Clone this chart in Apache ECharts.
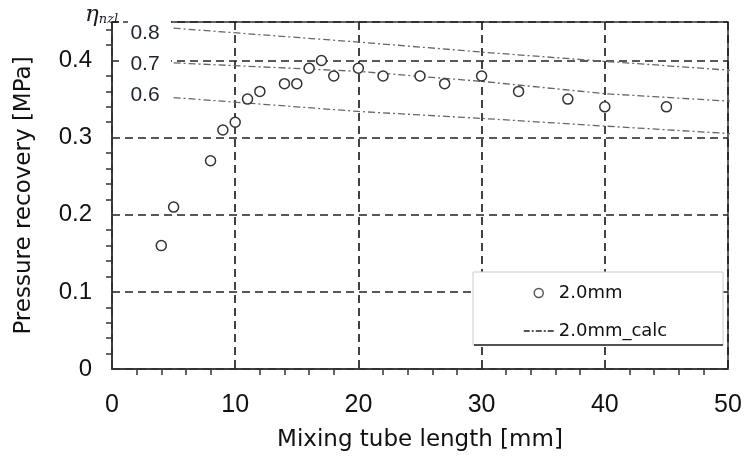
<!DOCTYPE html>
<html>
<head>
<meta charset="utf-8">
<script src="https://cdn.jsdelivr.net/npm/echarts@6/dist/echarts.min.js"></script>
<style>
  html, body { margin: 0; padding: 0; background: #fff; }
  #chart { width: 747px; height: 459px; }
</style>
</head>
<body>
<div id="chart"></div>
<script>
// measured points, 2.0mm nozzle
const tubeLength = [4, 5, 8, 9, 10, 11, 12, 14, 15, 16, 17, 18, 20, 22, 25, 27, 30, 33, 37, 40, 45]
const recovery = [0.16, 0.21, 0.27, 0.31, 0.32, 0.35, 0.36, 0.37, 0.37, 0.39, 0.40, 0.38, 0.39, 0.38, 0.38, 0.37, 0.38, 0.36, 0.35, 0.34, 0.34]

// calculated curves for nozzle efficiency 0.8 / 0.7 / 0.6
const calcX = [5, 20, 30, 40, 50.5]
const calc08 = [0.442, 0.424, 0.411, 0.399, 0.387]
const calc07 = [0.397, 0.386, 0.373, 0.357, 0.347]
const calc06 = [0.352, 0.334, 0.325, 0.315, 0.305]
const etaLabels = ['0.8', '0.7', '0.6']

const xTicks = [0, 10, 20, 30, 40, 50]
const yTicks = [0, 0.1, 0.2, 0.3, 0.4]

const pair = (xs, ys) => xs.map((x, i) => [x, ys[i]])

const chart = echarts.init(document.getElementById('chart'))

const calcStyle = { color: '#666', width: 1.3, type: [7, 3, 2, 3] }
const gridLine = { show: true, lineStyle: { color: '#222', width: 1.7, type: [8, 5] } }
const etaText = { fontFamily: 'Liberation Sans', fontSize: 21, fill: '#1c2333', align: 'center', verticalAlign: 'middle' }

function calcSeries(values) {
  return {
    name: '2.0mm_calc',
    type: 'line',
    data: pair(calcX, values),
    symbol: 'none',
    clip: false,
    lineStyle: calcStyle,
    itemStyle: { color: '#222' },
    z: 3
  }
}

chart.setOption({
  animation: false,
  backgroundColor: '#fff',
  grid: {
    left: 112, right: 19, top: 22, bottom: 90,
    show: true, borderColor: '#333', borderWidth: 1.5
  },
  legend: {
    orient: 'vertical',
    left: 523,
    top: 284,
    padding: 0,
    itemGap: 20,
    itemWidth: 30,
    itemHeight: 9,
    textStyle: { fontFamily: 'DejaVu Sans', fontSize: 18, color: '#111' },
    data: [
      { name: '2.0mm', itemStyle: { color: '#fff', borderColor: '#555', borderWidth: 1.5 } },
      {
        name: '2.0mm_calc',
        itemStyle: { color: 'transparent', borderWidth: 0, opacity: 0 },
        lineStyle: { color: '#222', width: 1.5, type: [6, 2, 2, 2] }
      }
    ],
    z: 10
  },
  xAxis: {
    type: 'value',
    min: xTicks[0],
    max: xTicks[xTicks.length - 1],
    interval: 10,
    name: 'Mixing tube length [mm]',
    nameLocation: 'middle',
    nameGap: 60,
    nameTextStyle: { fontFamily: 'DejaVu Sans', fontSize: 23, color: '#111' },
    axisLine: { lineStyle: { color: '#333', width: 1.5 } },
    axisTick: { show: false },
    minorTick: { show: true, splitNumber: 5, length: 6, lineStyle: { color: '#333', width: 1.5 } },
    axisLabel: { fontFamily: 'Liberation Sans', fontSize: 25, color: '#111', margin: 24 },
    splitLine: gridLine
  },
  yAxis: {
    type: 'value',
    min: yTicks[0],
    max: 0.45,
    interval: 0.1,
    name: 'Pressure recovery [MPa]',
    nameLocation: 'middle',
    nameGap: 76,
    nameTextStyle: { fontFamily: 'DejaVu Sans', fontSize: 23, color: '#111' },
    axisLine: { show: true, lineStyle: { color: '#333', width: 1.5 } },
    axisTick: { show: false },
    minorTick: { show: true, splitNumber: 5, length: 6, lineStyle: { color: '#333', width: 1.5 } },
    axisLabel: {
      fontFamily: 'Liberation Sans', fontSize: 24, color: '#111', margin: 20,
      showMaxLabel: false
    },
    splitLine: gridLine
  },
  graphic: [
    // white patch behind the eta labels (hides top frame + dashed lines there)
    { type: 'rect', shape: { x: 119, y: 15, width: 52, height: 93 }, style: { fill: '#fff' }, z: 50 },
    {
      type: 'text', x: 85, y: 15, z: 51,
      style: {
        text: '{a|η}{b|nzl}',
        verticalAlign: 'middle',
        rich: {
          a: { fontFamily: 'DejaVu Serif', fontStyle: 'italic', fontSize: 23, fill: '#1a1a2a' },
          b: { fontFamily: 'DejaVu Serif', fontStyle: 'italic', fontSize: 13, fill: '#1a1a2a', padding: [9, 0, 0, 0] }
        }
      }
    },
    { type: 'line', shape: { x1: 123, y1: 22, x2: 128, y2: 22 }, style: { stroke: '#333', lineWidth: 1.5 }, z: 51 },
    { type: 'text', x: 145, y: 33, z: 51, style: Object.assign({ text: etaLabels[0] }, etaText) },
    { type: 'text', x: 145, y: 64, z: 51, style: Object.assign({ text: etaLabels[1] }, etaText) },
    { type: 'text', x: 145, y: 95, z: 51, style: Object.assign({ text: etaLabels[2] }, etaText) },
    // legend box
    { type: 'rect', shape: { x: 473, y: 272, width: 250, height: 73 }, style: { fill: '#fff', stroke: '#ccc', lineWidth: 1 }, z: 8 },
    { type: 'line', shape: { x1: 474, y1: 345, x2: 723, y2: 345 }, style: { stroke: '#222', lineWidth: 1.5 }, z: 9 }
  ],
  series: [
    {
      name: '2.0mm',
      type: 'scatter',
      data: pair(tubeLength, recovery),
      symbol: 'circle',
      symbolSize: 10,
      itemStyle: { color: '#fff', borderColor: '#333', borderWidth: 1.5, opacity: 1 },
      z: 4
    },
    calcSeries(calc08),
    calcSeries(calc07),
    calcSeries(calc06)
  ]
})
</script>
</body>
</html>
